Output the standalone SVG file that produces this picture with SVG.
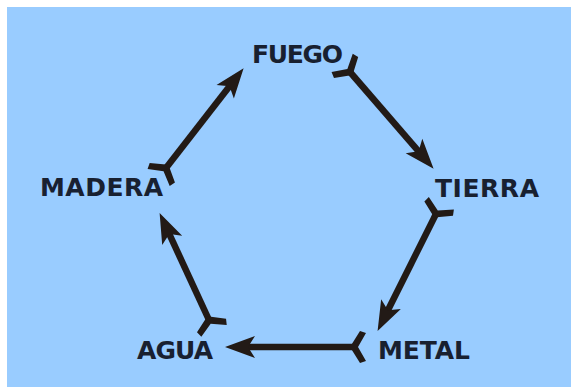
<svg xmlns="http://www.w3.org/2000/svg" width="571" height="387" viewBox="0 0 571 387">
  <style>
    .lbl { font-family: "DejaVu Sans", Verdana, sans-serif; font-weight: bold; font-size: 25px; fill: #182030; }
    .arr { stroke: #221a16; stroke-width: 6.5; fill: none; marker-end: url(#head); marker-start: url(#tail); }
  </style>
  <defs>
    <marker id="head" markerUnits="userSpaceOnUse" markerWidth="50" markerHeight="50" viewBox="-25 -25 50 50" refX="0" refY="0" orient="auto" overflow="visible">
      <path d="M15,0 L-15,-11 L-8,0 L-15,11 Z" fill="#221a16"/>
    </marker>
    <marker id="tail" markerUnits="userSpaceOnUse" markerWidth="50" markerHeight="50" viewBox="-25 -25 50 50" refX="0" refY="0" orient="auto" overflow="visible">
      <path d="M4,0 L-6,-16 L-12,-14 L-4,0 L-12,14 L-6,16 Z" fill="#221a16"/>
    </marker>
  </defs>
  <rect x="0" y="0" width="571" height="387" fill="#ffffff"/>
  <rect x="7" y="7" width="564" height="380" fill="#99ccff"/>
  <g id="connectors">
    <path class="arr" d="M166,168 L234.4,80"/>
    <path class="arr" d="M350,72 L423.8,157.4"/>
    <path class="arr" d="M436,214 L384.3,317.5"/>
    <path class="arr" d="M354,347 L240,347"/>
    <path class="arr" d="M209,320 L165.9,226.7"/>
  </g>
  <g id="fuego"><text class="lbl" x="252" y="63" textLength="91">FUEGO</text></g>
  <g id="tierra"><text class="lbl" x="435" y="197" textLength="104">TIERRA</text></g>
  <g id="metal"><text class="lbl" x="378" y="359" textLength="92">METAL</text></g>
  <g id="agua"><text class="lbl" x="137" y="359" textLength="76">AGUA</text></g>
  <g id="madera"><text class="lbl" x="40" y="196" textLength="123">MADERA</text></g>
</svg>
